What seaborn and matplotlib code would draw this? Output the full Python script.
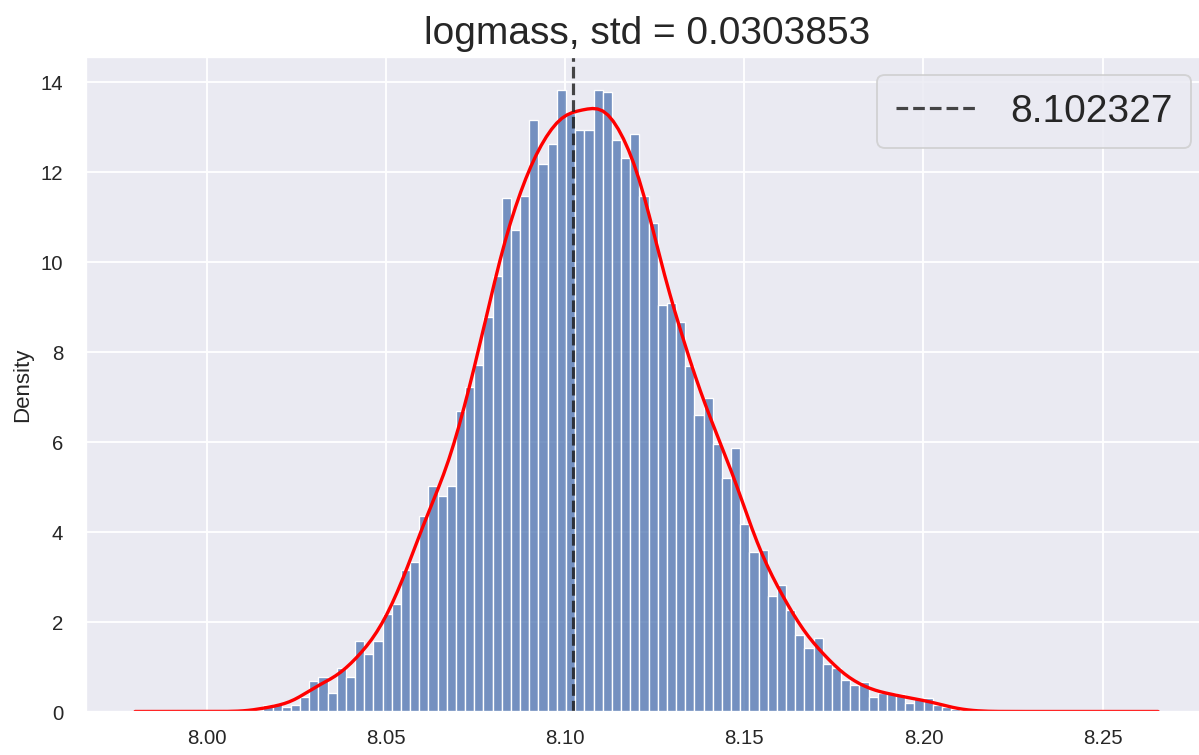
import numpy as np
import pandas as pd
import matplotlib
matplotlib.use("Agg")
import matplotlib.pyplot as plt
import seaborn as sns

# ---- data ----
title = "logmass, std = 0.0303853"
median_value = 8.102327
bin_start = 8.0158
bin_width = 0.0025592
density = [
    0.14, 0.16, 0.10, 0.14, 0.33, 0.68, 0.77, 0.42, 0.97, 0.77,
    1.57, 1.27, 1.57, 2.16, 2.38, 3.14, 3.33, 4.35, 5.01, 4.80,
    5.02, 6.68, 7.21, 7.71, 8.77, 9.68, 11.41, 10.70, 11.45, 13.14,
    12.18, 12.61, 13.82, 13.30, 12.93, 12.93, 13.82, 13.77, 12.71, 12.30,
    12.84, 11.45, 10.87, 9.04, 9.08, 8.65, 7.67, 6.60, 6.97, 5.95,
    5.19, 5.86, 4.16, 3.55, 3.58, 2.57, 2.82, 2.26, 1.71, 1.41,
    1.63, 1.05, 0.96, 0.70, 0.60, 0.65, 0.32, 0.42, 0.41, 0.39,
    0.18, 0.30, 0.30, 0.14, 0.11, 0.05, 0.03,
]
kde_range = (7.980, 8.2655)

sns.set_theme(style="darkgrid")
plt.rcParams['font.family'] = ['Liberation Sans', 'DejaVu Sans']

n_bins = len(density)
bin_end = bin_start + bin_width * n_bins
centers = bin_start + bin_width * (np.arange(n_bins) + 0.5)
df = pd.DataFrame({"logmass": centers, "density": density})

fig = plt.figure(figsize=(9, 5.67), dpi=133.333)
ax = fig.add_axes([86 / 1200, 43.5 / 756, 1123 / 1200, 654.5 / 756])

sns.histplot(data=df, x="logmass", weights="density", bins=n_bins,
             binrange=(bin_start, bin_end), stat="count", ax=ax)
sns.kdeplot(data=df, x="logmass", weights="density", bw_adjust=0.32,
            cut=20, clip=kde_range, color="red", lw=1.8, ax=ax)
ax.axvline(median_value, color="k", ls="--", lw=1.7, alpha=0.8,
           label=f"{median_value:.6f}")

ax.legend(loc="upper right", fontsize=21, borderpad=0.48,
          handlelength=2.05, handletextpad=0.9, borderaxespad=0.45)
ax.set_title(title, fontsize=21, pad=7.5)
ax.set_xlabel("")
ax.set_ylabel("Density", fontsize=12)
ax.set_xlim(7.9663, 8.2797)
ax.set_ylim(0, 14.55)
ax.tick_params(axis="x", labelsize=11, length=0, pad=9)
ax.tick_params(axis="y", labelsize=11, length=0, pad=12.4)

fig.savefig("out.png", dpi=133.333)
